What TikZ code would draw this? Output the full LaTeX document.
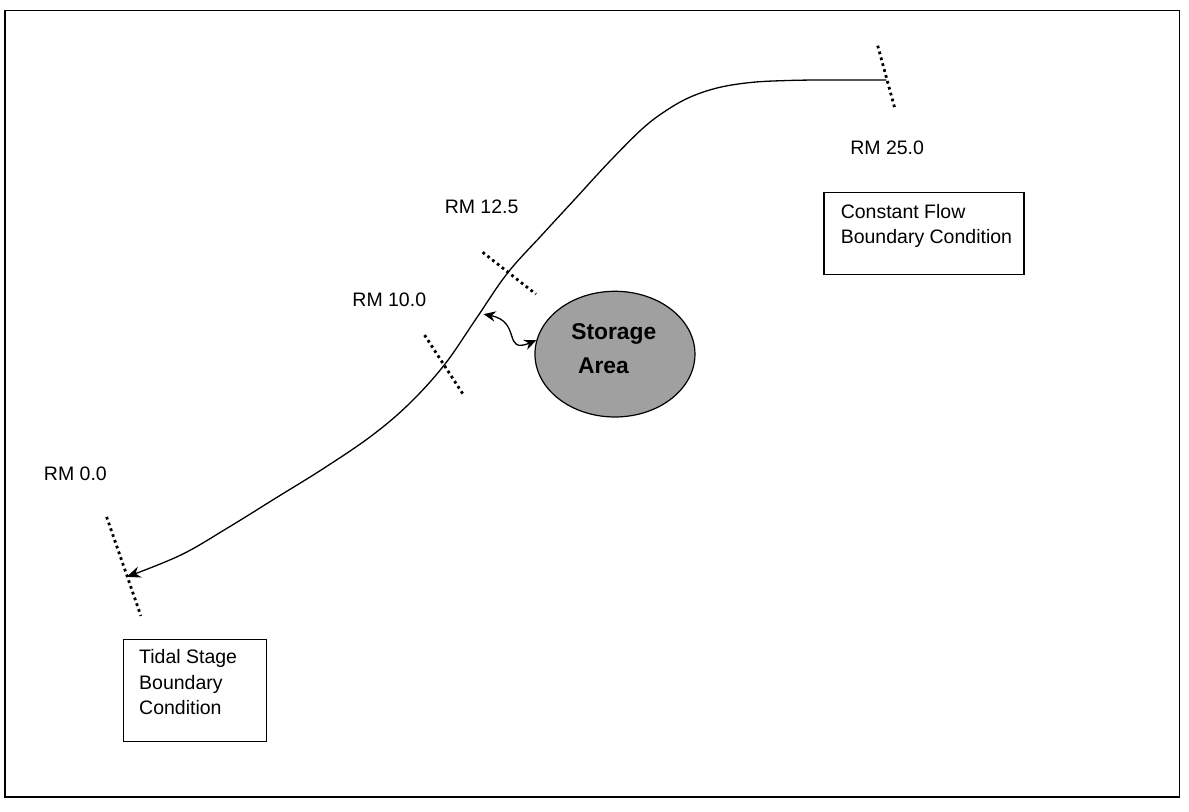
\documentclass[tikz,border=0pt]{standalone}
\usepackage{fontspec}
\setmainfont{Liberation Sans}
\usetikzlibrary{arrows.meta,shapes.geometric,calc}
\definecolor{storagegray}{RGB}{160,160,160}
\begin{document}
\begin{tikzpicture}[x=0.952pt,y=-0.952pt,
  lbl/.style={font=\fontsize{19.5}{25.7}\selectfont, inner sep=0pt, anchor=west},
  boxtext/.style={font=\fontsize{19.5}{25.7}\selectfont, inner sep=0pt, anchor=north west, align=left},
  bcbox/.style={draw, line width=1.2pt, anchor=north west, inner sep=0pt},
  river/.style={line width=1.3pt},
  xsec/.style={line width=2.8pt, dash pattern=on 2.7pt off 3.4pt},
  frameline/.style={line width=1.8pt}]
\useasboundingbox (0,0) rectangle (1249,852);
\draw[frameline] (5.5,11) rectangle (1239,837);

% cross sections
\coordinate (x25a) at (922,48);  \coordinate (x25b) at (940,114);
\coordinate (x125a) at (507,265); \coordinate (x125b) at (563,309);
\coordinate (x10a) at (446,352); \coordinate (x10b) at (487,415);
\coordinate (x0a) at (112,543);  \coordinate (x0b) at (148,647);
\draw[xsec] (x25a) -- (x25b);
\draw[xsec] (x125a) -- (x125b);
\draw[xsec] (x10a) -- (x10b);
\draw[xsec] (x0a) -- (x0b);

% river
\draw[river, -{Stealth[length=14pt,width=11.5pt,inset=4.5pt]}]
  plot[smooth, tension=0.6] coordinates {(931,84) (870,84) (830,84.5) (790,86.5) (755,92) (725,102) (700,116) (675,135) (640,170) (605,208) (570,246) (533,287) (500,335) (467,383) (430,424) (390,458) (340,492) (290,523) (240,554) (190,583) (133,606)};

% labels
\node[lbl] (l25) at (893,155) {RM 25.0};
\node[lbl] (l125) at (467,217) {RM 12.5};
\node[lbl] (l10) at (370,315) {RM 10.0};
\node[lbl] (l0) at (46,498) {RM 0.0};

% boundary boxes
\node[bcbox, minimum width=200pt, minimum height=81.9pt] (cf) at (865,202) {};
\node[boxtext] (cft) at (883,214) {Constant Flow\\Boundary Condition};
\node[bcbox, minimum width=142.8pt, minimum height=101.9pt] (ts) at (129,671) {};
\node[boxtext] (tst) at (146,682) {Tidal Stage\\Boundary\\Condition};

% storage area
\node[ellipse, draw, line width=1.2pt, fill=storagegray, minimum width=160pt, minimum height=125.7pt, inner sep=0pt] (sa) at (646,372) {};
\node[font=\fontsize{22.8}{34}\selectfont\bfseries, align=left, anchor=west, inner sep=0pt] (sat) at (600,366) {Storage\\\hspace*{6.7pt}Area};

\coordinate (link) at (508,330);
\draw[line width=1.3pt, {Stealth[length=12pt,width=10.5pt,inset=4pt]}-{Stealth[length=12pt,width=10.5pt,inset=4pt]}]
  (link) .. controls (548,338) and (528,372) .. (sa.170);
\end{tikzpicture}
\end{document}
